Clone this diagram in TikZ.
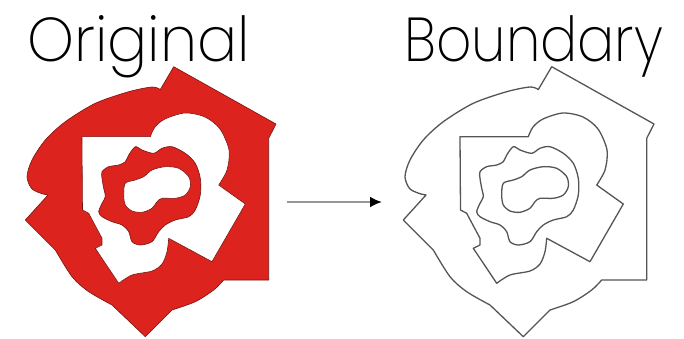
\documentclass[tikz,border=0pt]{standalone}
\usepackage{fontspec}
\setmainfont{Poppins ExtraLight}
\usetikzlibrary{arrows.meta}
\definecolor{orgred}{RGB}{220,35,30}
\definecolor{edgegray}{RGB}{85,85,85}
\definecolor{shaftgray}{RGB}{150,150,150}
\tikzset{
  lbl/.style={anchor=base west, inner sep=0pt, font=\fontsize{62}{70}\selectfont},
  redpart/.style={fill=orgred, draw=orgred!55!black, line width=0.6pt, line join=round},
  whitepart/.style={fill=white, draw=orgred!55!black, line width=0.6pt, line join=round},
  bline/.style={draw=edgegray, line width=1.3pt, line join=round},
  arr/.style={draw=shaftgray, line width=2.5pt, -{Latex[black, length=12pt, width=11pt]}}
}
\def\outerpath{(551.7,66.7) -- (654,124) -- (646.7,138.3) -- (646.7,280) -- (601.7,280)
  -- plot[smooth] coordinates {(601.7,280) (591.7,290) (573.3,301.7) (550,310)}
  -- (523.3,336.7)
  -- plot[smooth] coordinates {(490,305) (466.7,291.7) (450,276.7) (433.3,250)}
  -- (403.3,220) -- (426,195)
  -- plot[smooth] coordinates {(421,194) (410,189) (405,176.7) (410,160) (423.3,140) (443.3,121.7) (473.3,103.3) (506.7,91.7) (530,87) (538.3,89.5)}
  -- cycle}
\def\whitepath{(460,136.7) -- (528.3,136.7)
  -- plot[smooth] coordinates {(528.3,136.7) (533,127) (543,119) (563,113) (583,117) (598,129) (607,150) (605,170) (596.7,185)}
  -- (623.3,204) -- (590,261.7) -- (546.7,238.3)
  -- plot[smooth] coordinates {(546.7,238.3) (545,251.7) (540,264) (530,271) (510,275) (496.7,283.3)}
  -- (473.3,248.3) -- (480,245) -- (480,238.3) -- (466.7,213.3) -- (460.5,210) -- cycle}
\def\midpath{plot[smooth cycle] coordinates {(513.3,146.7) (520,150) (531.7,153.3) (540,148.3) (550,146.7) (563.3,153.3) (573.3,163.3) (578.3,178.3) (578.3,195) (573.3,210) (566.7,216.7) (553.3,220) (543.3,225) (536.7,231.7) (530,241.7) (518.3,245) (510,241.7) (506.7,231.7) (500,225) (490,221.7) (480,216.7) (476.7,211.7) (480,203.3) (483.3,196.7) (481.7,188.3) (480,178.3) (480,171.7) (486.7,166.7) (496.7,165) (503.3,161.7) (506.7,155)}}
\def\innerpath{plot[smooth cycle] coordinates {(503.3,183.3) (513.3,180) (521.7,176.7) (530,170) (543.3,166.7) (556.7,168.3) (566.7,176.7) (568.3,186.7) (563.3,195) (553.3,198.3) (540,198.3) (535,201.7) (530,208.3) (520,212.3) (510,211) (503.3,205) (501.7,195)}}
\begin{document}
\begin{tikzpicture}[x=1pt,y=-1pt]
\useasboundingbox (0,0) rectangle (684,339);
\fill[white] (0,0) rectangle (684,339);
% labels
\node[lbl] (t1) at (27,62) {\scalebox{0.96}[1]{Original}};
\node[lbl] (t2) at (404,62) {\scalebox{0.89}[1]{Boundary}};
% original (filled)
\begin{scope}[xshift=-378pt]
  \path[redpart] \outerpath;
  \path[whitepart] \whitepath;
  \path[redpart] \midpath;
  \path[whitepart] \innerpath;
\end{scope}
% boundary
\path[bline] \outerpath;
\path[bline] \whitepath;
\path[bline] \midpath;
\path[bline] \innerpath;
% arrow
\coordinate (a1) at (287,202);
\coordinate (a2) at (382,202);
\draw[arr] (a1) -- (a2);
\end{tikzpicture}
\end{document}
